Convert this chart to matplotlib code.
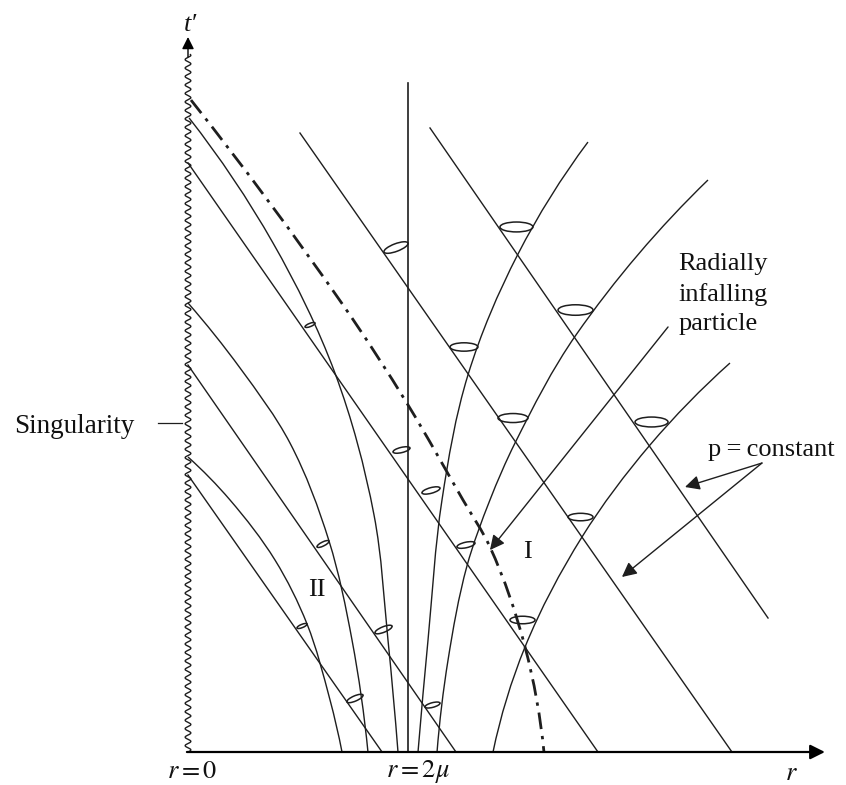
import numpy as np
import matplotlib
matplotlib.use("Agg")
import matplotlib.pyplot as plt
from matplotlib.path import Path
from matplotlib.patches import PathPatch, Ellipse

plt.rcParams["font.family"] = ["Liberation Serif", "DejaVu Serif"]
plt.rcParams["mathtext.fontset"] = "stix"

# coordinates: r and t' in units of mu (horizon at r = 2)
horizon_top = 6.08

# ingoing null rays (straight), start (r, t) and end (r, t)
ingoing_start = [(1.018, 5.627), (2.20, 5.673), (0.0, 5.355), (0.0, 3.518), (0.0, 2.518)]
ingoing_end = [(4.945, 0.0), (5.273, 1.218), (3.727, 0.0), (2.436, 0.0), (1.764, 0.0)]

# outgoing rays inside the horizon (region II)
outgoing_in = [
    [(0.01, 5.764), (0.773, 4.627), (1.336, 3.445), (1.691, 2.155), (1.818, 1.018), (1.909, 0.0)],
    [(0.0, 4.082), (0.473, 3.491), (0.927, 2.809), (1.282, 1.918), (1.491, 1.018), (1.636, 0.0)],
    [(0.0, 2.682), (0.382, 2.291), (0.791, 1.745), (1.082, 1.164), (1.291, 0.473), (1.40, 0.0)],
]

# outgoing rays outside the horizon (region I)
outgoing_out = [
    [(2.091, 0.0), (2.182, 1.018), (2.309, 2.291), (2.545, 3.427), (3.0, 4.527), (3.636, 5.545)],
    [(2.264, 0.0), (2.364, 0.836), (2.536, 1.691), (2.745, 2.291), (2.973, 2.809), (3.527, 3.791),
     (4.727, 5.20)],
    [(2.773, 0.0), (3.064, 0.955), (3.582, 1.955), (4.20, 2.791), (4.927, 3.536)],
]

# radially infalling particle
particle = [(0.027, 5.927), (1.409, 4.064), (2.0, 3.155), (2.5, 2.291), (2.745, 1.864),
            (3.064, 0.955), (3.236, 0.0)]

# light cones: ellipse ends (r, t) on the two null rays
cone_left = [(2.836, 4.773), (2.382, 3.682), (3.364, 4.018), (2.818, 3.036), (4.064, 3.0),
             (3.455, 2.136), (2.927, 1.20), (2.445, 1.864), (2.127, 2.355), (2.155, 0.409),
             (1.782, 4.545), (1.864, 2.727), (1.064, 3.864), (1.173, 1.864), (0.991, 1.127),
             (1.70, 1.082), (1.445, 0.455)]
cone_right = [(3.136, 4.773), (2.636, 3.682), (3.682, 4.018), (3.091, 3.036), (4.364, 3.0),
              (3.682, 2.136), (3.155, 1.20), (2.609, 1.90), (2.291, 2.40), (2.291, 0.445),
              (2.0, 4.627), (2.018, 2.764), (1.155, 3.90), (1.282, 1.918), (1.082, 1.164),
              (1.855, 1.145), (1.591, 0.518)]

LC = "#1e1e1e"


def smooth_path(pts):
    # Hermite curve through the points with unit tangents, as cubic Bezier segments
    p = np.asarray(pts, float)
    d = np.diff(p, axis=0)
    seg = np.hypot(d[:, 0], d[:, 1])
    u = d / seg[:, None]
    tan = np.empty_like(p)
    tan[1:-1] = u[:-1] + u[1:]
    tan[1:-1] /= np.hypot(tan[1:-1, 0], tan[1:-1, 1])[:, None]
    # end tangents: mirror the neighbour tangent about the end chord
    tan[0] = 2 * u[0] * np.dot(u[0], tan[1]) - tan[1]
    tan[-1] = 2 * u[-1] * np.dot(u[-1], tan[-2]) - tan[-2]
    verts = [p[0]]
    codes = [Path.MOVETO]
    for i in range(len(p) - 1):
        verts += [p[i] + tan[i] * seg[i] / 3, p[i + 1] - tan[i + 1] * seg[i] / 3, p[i + 1]]
        codes += [Path.CURVE4] * 3
    return Path(verts, codes)


fig = plt.figure(figsize=(8.46, 7.85), dpi=100)
ax = fig.add_axes([0, 0, 1, 1])
ax.set_xlim(-188 / 110, 658 / 110)
ax.set_ylim(-33 / 110, 752 / 110)
ax.axis("off")

# horizon
ax.plot([2, 2], [0, horizon_top], color=LC, lw=1.2)

for (r0, t0), (r1, t1) in zip(ingoing_start, ingoing_end):
    ax.plot([r0, r1], [t0, t1], color=LC, lw=1.0)

for curve in outgoing_in + outgoing_out:
    ax.add_patch(PathPatch(smooth_path(curve), fill=False, ec=LC, lw=1.0))

ax.add_patch(PathPatch(smooth_path(particle), fill=False, ec=LC, lw=2.0,
                       linestyle=(0, (6, 2.5, 1.2, 2.5))))

for (ra, ta), (rb, tb) in zip(cone_left, cone_right):
    w = np.hypot(rb - ra, tb - ta)
    ang = np.degrees(np.arctan2(tb - ta, rb - ra))
    ax.add_patch(Ellipse(((ra + rb) / 2, (ta + tb) / 2), w, 0.3 * w, angle=ang,
                         fill=False, ec=LC, lw=1.1))

# singularity (wavy t' axis)
ts = np.linspace(0, 6.34, 1500)
ax.plot(0.026 * np.sin(2 * np.pi * ts / 0.077), ts, color=LC, lw=1.0)
ax.annotate("", xy=(0, 6.50), xytext=(0, 6.32),
            arrowprops=dict(arrowstyle="-|>", mutation_scale=18, lw=1.0, color="black",
                            shrinkA=0, shrinkB=0))
# r axis
ax.annotate("", xy=(5.79, 0), xytext=(-0.01, 0),
            arrowprops=dict(arrowstyle="-|>", mutation_scale=22, lw=1.6, color="black",
                            shrinkA=0, shrinkB=0))

# pointers
arrow_kw = dict(arrowstyle="-|>", mutation_scale=22, lw=1.0, color=LC, shrinkA=0, shrinkB=0)
ax.annotate("", xy=(2.745, 1.836), xytext=(4.364, 3.864), arrowprops=arrow_kw)
ax.annotate("", xy=(4.518, 2.409), xytext=(5.218, 2.627), arrowprops=arrow_kw)
ax.annotate("", xy=(3.945, 1.591), xytext=(5.218, 2.627), arrowprops=arrow_kw)

fs = 19
tc = "#111111"
ax.text(4.455, 4.54, "Radially\ninfalling\nparticle", fontsize=fs, color=tc,
        ha="left", va="top", linespacing=1.45)
ax.text(4.727, 2.745, "p\u2009=\u2009constant", fontsize=fs, color=tc, ha="left", va="center")
ax.text(-0.482, 2.96, "Singularity", fontsize=19.5, color=tc, ha="right", va="center")
ax.plot([-0.273, -0.055], [2.99, 2.99], color=LC, lw=0.9)
ax.text(3.082, 1.818, "I", fontsize=fs, color=tc, ha="center", va="center")
ax.text(1.173, 1.473, "II", fontsize=fs, color=tc, ha="center", va="center")
ax.text(0.018, 6.61, "t\u2032", fontsize=fs, color=tc, ha="center", va="center",
        fontstyle="italic")
ax.text(0.036, -0.18, r"$r=0$", fontsize=fs, color=tc, ha="center", va="center")
ax.text(2.09, -0.18, r"$r=2\mu$", fontsize=fs, color=tc, ha="center", va="center")
ax.text(5.49, -0.20, r"$r$", fontsize=fs, color=tc, ha="center", va="center")

fig.savefig("out.png", dpi=100)
